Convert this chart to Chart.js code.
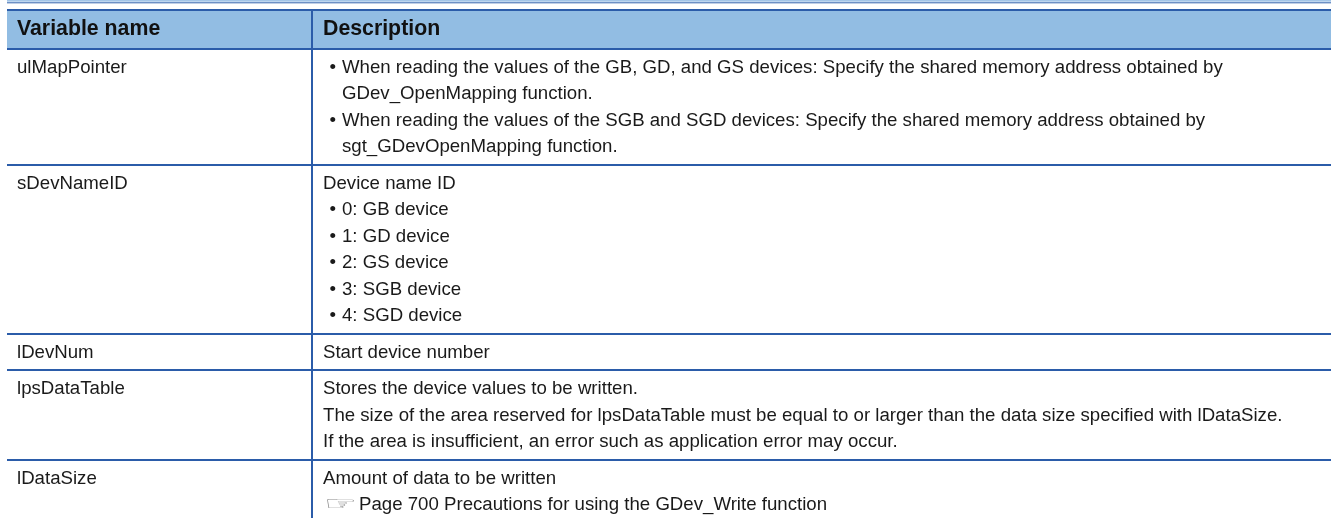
<!DOCTYPE html>
<html>
<head>
<meta charset="utf-8">
<script src="https://cdn.jsdelivr.net/npm/chart.js@4.4.1/dist/chart.umd.min.js"></script>
<style>
  html, body { margin: 0; padding: 0; background: #fff; }
  #wrap { width: 1331px; height: 518px; }
</style>
</head>
<body>
<div id="wrap"><canvas id="myChart" width="1331" height="518"></canvas></div>
<script>
// table content
const headers = ['Variable name', 'Description'];
const variableNames = ['ulMapPointer', 'sDevNameID', 'lDevNum', 'lpsDataTable', 'lDataSize'];
const descriptions = [
  ['• When reading the values of the GB, GD, and GS devices: Specify the shared memory address obtained by',
   '  GDev_OpenMapping function.',
   '• When reading the values of the SGB and SGD devices: Specify the shared memory address obtained by',
   '  sgt_GDevOpenMapping function.'],
  ['Device name ID', '• 0: GB device', '• 1: GD device', '• 2: GS device', '• 3: SGB device', '• 4: SGD device'],
  ['Start device number'],
  ['Stores the device values to be written.',
   'The size of the area reserved for lpsDataTable must be equal to or larger than the data size specified with lDataSize.',
   'If the area is insufficient, an error such as application error may occur.'],
  ['Amount of data to be written',
   '☞ Page 700 Precautions for using the GDev_Write function']
];

// layout (y axis is measured in text lines, x axis in pixels of the table width)
const LINE = 26.4;
const HEADER_H = 1.477;
const ROW_PAD = 0.39;
const TABLE_W = 1324;
const COL_SPLIT = 305;
const BLUE = '#2b5ca9';
const FONT = '"Liberation Sans", Arial, sans-serif';

// row edges in line units
const rowEdges = [0, HEADER_H];
descriptions.forEach(d => rowEdges.push(rowEdges[rowEdges.length - 1] + d.length + ROW_PAD));

const tablePlugin = {
  id: 'tablePlugin',
  beforeDraw(chart) {
    const { ctx, scales: { x, y } } = chart;
    const x0 = x.getPixelForValue(0), x1 = x.getPixelForValue(TABLE_W);
    ctx.save();
    ctx.fillStyle = '#fff';
    ctx.fillRect(0, 0, chart.width, chart.height);
    // double rule above the table
    ctx.fillStyle = '#a3c5e8';
    ctx.fillRect(x0, 0, x1 - x0, 1.7);
    ctx.fillStyle = '#2f62ad';
    ctx.fillRect(x0, 2.3, x1 - x0, 1);
    // header band
    ctx.fillStyle = '#92bde3';
    const hy0 = y.getPixelForValue(0), hy1 = y.getPixelForValue(HEADER_H);
    ctx.fillRect(x0, hy0, x1 - x0, hy1 - hy0);
    ctx.restore();
  },
  afterDraw(chart) {
    const { ctx, scales: { x, y } } = chart;
    const colX = [x.getPixelForValue(0) + 10, x.getPixelForValue(COL_SPLIT) + 11];
    ctx.save();
    ctx.textBaseline = 'alphabetic';
    // header
    ctx.fillStyle = '#111';
    ctx.font = 'bold 21.3px ' + FONT;
    const hb = y.getPixelForValue(0) + 25.3;
    headers.forEach((h, i) => ctx.fillText(h, colX[i], hb));
    // body rows
    ctx.fillStyle = '#1a1a1a';
    ctx.font = '18.65px ' + FONT;
    variableNames.forEach((name, r) => {
      const top = rowEdges[r + 1];
      ctx.fillText(name, colX[0], y.getPixelForValue(top + 0.91));
      descriptions[r].forEach((line, k) => {
        const by = y.getPixelForValue(top + 0.91 + k);
        if (line.startsWith('• ')) {
          ctx.fillText('•', colX[1] + 6.5, by);
          ctx.fillText(line.slice(2), colX[1] + 19, by);
        } else if (line.startsWith('  ')) {
          ctx.fillText(line.slice(2), colX[1] + 19, by);
        } else if (line.startsWith('☞ ')) {
          ctx.save();
          ctx.fillStyle = '#8c8c8c';
          ctx.font = '19px "DejaVu Sans"';
          ctx.translate(colX[1] + 1, by);
          ctx.scale(1.95, 1);
          ctx.fillText('☞', 0, 0);
          ctx.restore();
          ctx.fillText(line.slice(2), colX[1] + 36, by);
        } else {
          ctx.fillText(line, colX[1], by);
        }
      });
    });
    ctx.restore();
  }
};

const ctx = document.getElementById('myChart').getContext('2d');
const myChart = new Chart(ctx, {
  type: 'scatter',
  data: { datasets: [] },
  options: {
    responsive: false,
    animation: false,
    devicePixelRatio: 1,
    events: [],
    layout: { padding: { left: 7, top: 10, right: 0, bottom: 0 } },
    plugins: { legend: { display: false }, tooltip: { enabled: false } },
    scales: {
      x: {
        type: 'linear',
        min: 0,
        max: TABLE_W,
        afterBuildTicks: s => { s.ticks = [{ value: COL_SPLIT }]; },
        afterFit: s => { s.height = 0; },
        ticks: { display: false },
        border: { display: false },
        grid: { color: BLUE, lineWidth: 2, drawTicks: false }
      },
      y: {
        type: 'linear',
        reverse: true,
        min: 0,
        max: 508 / LINE,
        afterBuildTicks: s => { s.ticks = rowEdges.map(v => ({ value: v })); },
        afterFit: s => { s.width = 0; },
        ticks: { display: false },
        border: { display: false },
        grid: { color: BLUE, lineWidth: 2, drawTicks: false }
      }
    }
  },
  plugins: [tablePlugin]
});
</script>
</body>
</html>
